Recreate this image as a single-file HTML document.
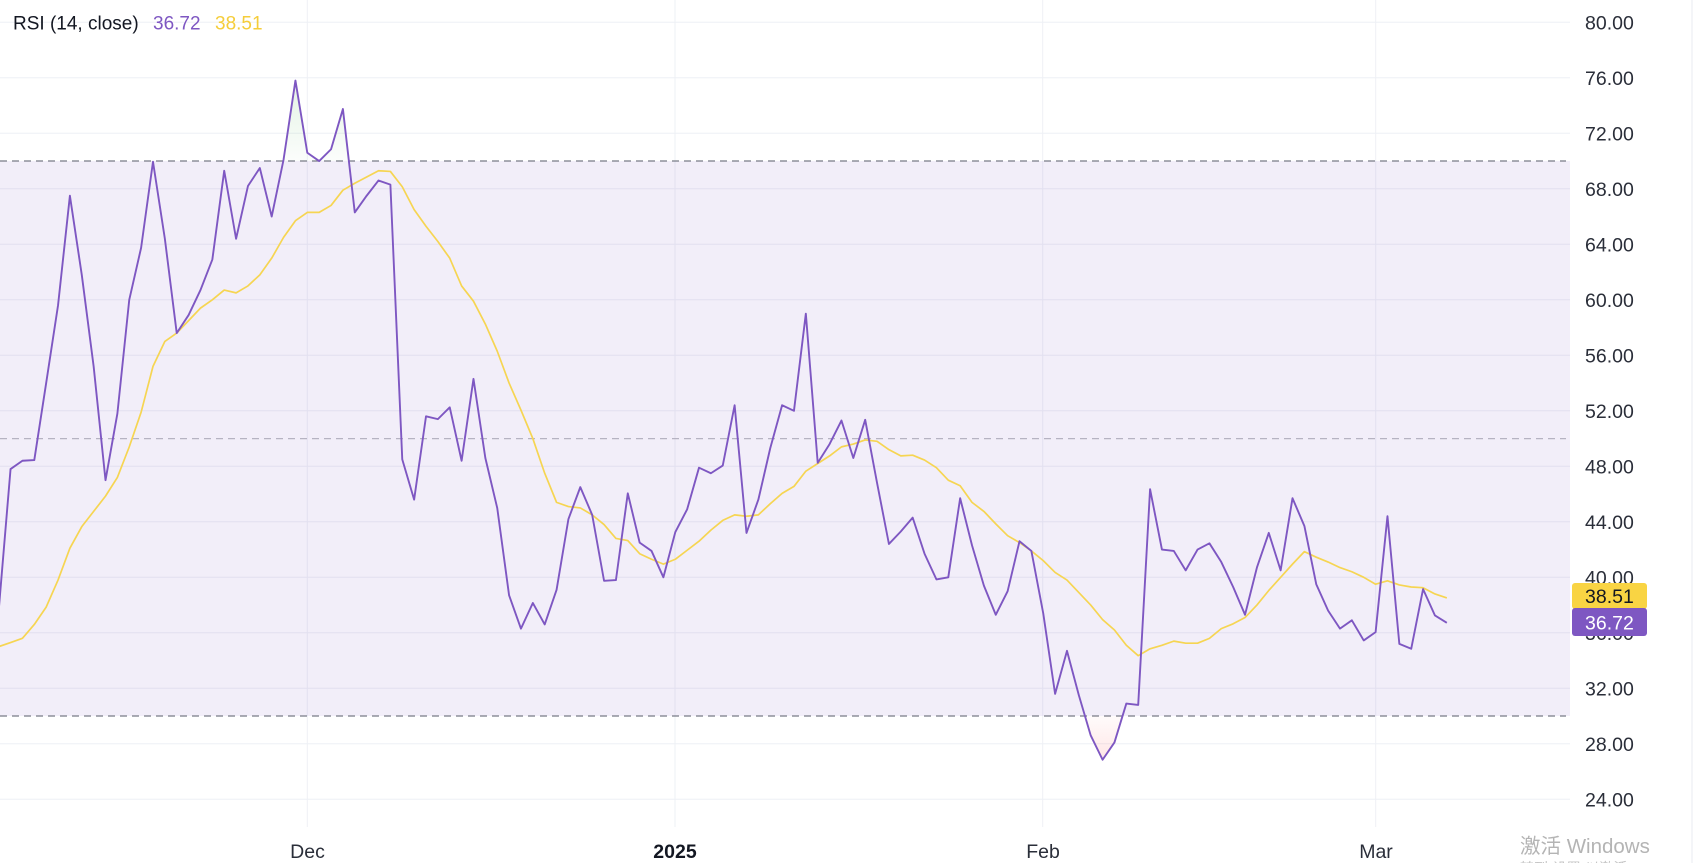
<!DOCTYPE html>
<html>
<head>
<meta charset="utf-8">
<style>
  html,body{margin:0;padding:0;background:#fff;}
  body{width:1702px;height:863px;overflow:hidden;}
  svg{display:block;}
  text{font-family:"Liberation Sans","Noto Sans CJK SC",sans-serif;}
</style>
</head>
<body>
<svg width="1702" height="863" viewBox="0 0 1702 863" xmlns="http://www.w3.org/2000/svg">
  <defs>
    <clipPath id="plot"><rect x="0" y="0" width="1570" height="827"/></clipPath>
    <clipPath id="ob" clipPathUnits="userSpaceOnUse"><rect x="-40" y="70" width="160" height="20"/></clipPath>
    <clipPath id="os" clipPathUnits="userSpaceOnUse"><rect x="-40" y="10" width="160" height="20"/></clipPath>
    <linearGradient id="gG" gradientUnits="userSpaceOnUse" x1="0" y1="76" x2="0" y2="70">
      <stop offset="0" stop-color="rgb(76,175,80)" stop-opacity="0.16"/>
      <stop offset="1" stop-color="rgb(76,175,80)" stop-opacity="0.02"/>
    </linearGradient>
    <linearGradient id="gR" gradientUnits="userSpaceOnUse" x1="0" y1="27" x2="0" y2="30">
      <stop offset="0" stop-color="rgb(255,82,82)" stop-opacity="0.14"/>
      <stop offset="1" stop-color="rgb(255,82,82)" stop-opacity="0.02"/>
    </linearGradient>
  </defs>

  <!-- horizontal gridlines -->
  <g stroke="#eef0f5" stroke-width="1">
    <line x1="0" y1="22.3" x2="1570" y2="22.3"/>
    <line x1="0" y1="77.8" x2="1570" y2="77.8"/>
    <line x1="0" y1="133.3" x2="1570" y2="133.3"/>
    <line x1="0" y1="188.8" x2="1570" y2="188.8"/>
    <line x1="0" y1="244.3" x2="1570" y2="244.3"/>
    <line x1="0" y1="299.8" x2="1570" y2="299.8"/>
    <line x1="0" y1="355.3" x2="1570" y2="355.3"/>
    <line x1="0" y1="410.8" x2="1570" y2="410.8"/>
    <line x1="0" y1="466.3" x2="1570" y2="466.3"/>
    <line x1="0" y1="521.8" x2="1570" y2="521.8"/>
    <line x1="0" y1="577.3" x2="1570" y2="577.3"/>
    <line x1="0" y1="632.8" x2="1570" y2="632.8"/>
    <line x1="0" y1="688.3" x2="1570" y2="688.3"/>
    <line x1="0" y1="743.8" x2="1570" y2="743.8"/>
    <line x1="0" y1="799.3" x2="1570" y2="799.3"/>
  </g>
  <!-- vertical gridlines -->
  <g stroke="#eef0f5" stroke-width="1">
    <line x1="307.3" y1="0" x2="307.3" y2="827"/>
    <line x1="675" y1="0" x2="675" y2="827"/>
    <line x1="1042.7" y1="0" x2="1042.7" y2="827"/>
    <line x1="1375.7" y1="0" x2="1375.7" y2="827"/>
  </g>

  <!-- RSI band -->
  <rect x="0" y="161" width="1570" height="555" fill="rgba(126,87,194,0.1)"/>
  <!-- band lines -->
  <line x1="0" y1="161" x2="1566" y2="161" stroke="#787b86" stroke-width="1.3" stroke-dasharray="7 5"/>
  <line x1="0" y1="716" x2="1566" y2="716" stroke="#787b86" stroke-width="1.3" stroke-dasharray="7 5"/>
  <line x1="0" y1="438.6" x2="1566" y2="438.6" stroke="#b6b3c2" stroke-width="1.2" stroke-dasharray="7 5"/>

  <g clip-path="url(#plot)">
    <g transform="matrix(11.87 0 0 -13.875 307.3 1132.3)">
      <!-- overbought fill -->
      <polygon clip-path="url(#ob)" fill="url(#gG)" points="-26,70 -26,37.6 -25,47.8 -24,48.4 -23,48.45 -22,54 -21,59.6 -20,67.5 -19,61.8 -18,55.2 -17,47.0 -16,51.8 -15,60.0 -14,63.75 -13,69.95 -12,64.4 -11,57.6 -10,58.9 -9,60.7 -8,62.9 -7,69.3 -6,64.4 -5,68.2 -4,69.5 -3,66.0 -2,70.1 -1,75.8 0,70.6 1,70.0 2,70.85 3,73.75 4,66.3 5,67.5 6,68.6 7,68.3 8,48.5 9,45.6 10,51.6 10,70"/>
      <!-- oversold fill -->
      <polygon clip-path="url(#os)" fill="url(#gR)" points="60,30 60,42.6 61,41.9 62,37.4 63,31.6 64,34.7 65,31.5 66,28.6 67,26.85 68,28.1 69,30.9 70,30.8 71,46.35 71,30"/>
      <!-- MA (yellow) -->
      <polyline fill="none" stroke="#f6d552" stroke-width="1.7" stroke-linejoin="round" vector-effect="non-scaling-stroke" points="-26,35.0 -25,35.3 -24,35.6 -23,36.6 -22,37.85 -21,39.8 -20,42.1 -19,43.65 -18,44.75 -17,45.85 -16,47.2 -15,49.4 -14,51.9 -13,55.2 -12,57.0 -11,57.6 -10,58.5 -9,59.4 -8,60.0 -7,60.7 -6,60.5 -5,61.0 -4,61.8 -3,63.0 -2,64.5 -1,65.7 0,66.3 1,66.3 2,66.8 3,67.9 4,68.4 5,68.85 6,69.3 7,69.25 8,68.15 9,66.5 10,65.3 11,64.2 12,63.0 13,61.0 14,59.9 15,58.25 16,56.3 17,54.0 18,52.05 19,50.0 20,47.5 21,45.4 22,45.1 23,45.0 24,44.5 25,43.8 26,42.8 27,42.65 28,41.7 29,41.3 30,40.95 31,41.3 32,41.95 33,42.6 34,43.4 35,44.1 36,44.5 37,44.4 38,44.5 39,45.3 40,46.05 41,46.55 42,47.65 43,48.2 44,48.75 45,49.4 46,49.6 47,49.9 48,49.8 49,49.2 50,48.75 51,48.8 52,48.45 53,47.9 54,47.0 55,46.6 56,45.4 57,44.75 58,43.85 59,43.0 60,42.5 61,41.9 62,41.2 63,40.35 64,39.8 65,38.9 66,38.0 67,36.95 68,36.2 69,35.1 70,34.35 71,34.85 72,35.1 73,35.4 74,35.25 75,35.25 76,35.6 77,36.3 78,36.65 79,37.1 80,38.0 81,39.05 82,40.0 83,40.95 84,41.85 85,41.45 86,41.1 87,40.7 88,40.4 89,40.0 90,39.5 91,39.75 92,39.45 93,39.3 94,39.25 95,38.8 96,38.51"/>
      <!-- RSI (purple) -->
      <polyline fill="none" stroke="#7e57c2" stroke-width="1.9" stroke-linejoin="round" vector-effect="non-scaling-stroke" points="-26,37.6 -25,47.8 -24,48.4 -23,48.45 -22,54 -21,59.6 -20,67.5 -19,61.8 -18,55.2 -17,47.0 -16,51.8 -15,60.0 -14,63.75 -13,69.95 -12,64.4 -11,57.6 -10,58.9 -9,60.7 -8,62.9 -7,69.3 -6,64.4 -5,68.2 -4,69.5 -3,66.0 -2,70.1 -1,75.8 0,70.6 1,70.0 2,70.85 3,73.75 4,66.3 5,67.5 6,68.6 7,68.3 8,48.5 9,45.6 10,51.6 11,51.4 12,52.25 13,48.4 14,54.3 15,48.6 16,45.0 17,38.7 18,36.3 19,38.15 20,36.6 21,39.1 22,44.2 23,46.5 24,44.5 25,39.75 26,39.8 27,46.05 28,42.5 29,41.9 30,40.0 31,43.25 32,44.9 33,47.9 34,47.5 35,48.05 36,52.4 37,43.2 38,45.6 39,49.3 40,52.4 41,52.0 42,59.0 43,48.25 44,49.6 45,51.3 46,48.6 47,51.35 48,46.8 49,42.4 50,43.3 51,44.3 52,41.7 53,39.85 54,40.0 55,45.7 56,42.3 57,39.4 58,37.3 59,39.0 60,42.6 61,41.9 62,37.4 63,31.6 64,34.7 65,31.5 66,28.6 67,26.85 68,28.1 69,30.9 70,30.8 71,46.35 72,42.0 73,41.9 74,40.5 75,42.0 76,42.45 77,41.1 78,39.3 79,37.3 80,40.7 81,43.2 82,40.5 83,45.7 84,43.7 85,39.5 86,37.6 87,36.3 88,36.9 89,35.45 90,36.05 91,44.4 92,35.2 93,34.85 94,39.15 95,37.25 96,36.72"/>
    </g>
  </g>

  <!-- right axis separator -->
  <line x1="1692" y1="0" x2="1692" y2="863" stroke="#e9ebf0" stroke-width="1"/>

  <!-- y axis labels -->
  <g font-size="19.5" fill="#2a2e39">
    <text x="1585" y="29.3">80.00</text>
    <text x="1585" y="84.8">76.00</text>
    <text x="1585" y="140.3">72.00</text>
    <text x="1585" y="195.8">68.00</text>
    <text x="1585" y="251.3">64.00</text>
    <text x="1585" y="306.8">60.00</text>
    <text x="1585" y="362.3">56.00</text>
    <text x="1585" y="417.8">52.00</text>
    <text x="1585" y="473.3">48.00</text>
    <text x="1585" y="528.8">44.00</text>
    <text x="1585" y="584.3">40.00</text>
    <text x="1585" y="639.8">36.00</text>
    <text x="1585" y="695.3">32.00</text>
    <text x="1585" y="750.8">28.00</text>
    <text x="1585" y="806.3">24.00</text>
  </g>

  <!-- value tags -->
  <rect x="1572" y="583" width="75" height="26" rx="3" fill="#f9d443"/>
  <text x="1585" y="603" font-size="19.5" fill="#131722">38.51</text>
  <rect x="1572" y="608" width="75" height="28" rx="3" fill="#7e57c2"/>
  <text x="1585" y="629.5" font-size="19.5" fill="#ffffff">36.72</text>

  <!-- x axis labels -->
  <g font-size="19.5" fill="#2a2e39" text-anchor="middle">
    <text x="307.5" y="858">Dec</text>
    <text x="675" y="858" font-weight="bold" fill="#131722">2025</text>
    <text x="1043" y="858">Feb</text>
    <text x="1376" y="858">Mar</text>
  </g>

  <!-- legend -->
  <text x="13" y="29.3" font-size="19" fill="#131722">RSI (14, close)</text>
  <text x="153" y="29.3" font-size="19" fill="#7e57c2">36.72</text>
  <text x="215" y="29.3" font-size="19" fill="#f5cd3a">38.51</text>

  <!-- watermark -->
  <text x="1520" y="853" font-size="20.5" fill="#b4b4b4" font-family="'Liberation Sans','Noto Sans CJK SC',sans-serif">激活 Windows</text>
  <text x="1520" y="873" font-size="14" fill="#c4c4c4" font-family="'Liberation Sans','Noto Sans CJK SC',sans-serif">转到“设置”以激活 Windows。</text>
</svg>
</body>
</html>
